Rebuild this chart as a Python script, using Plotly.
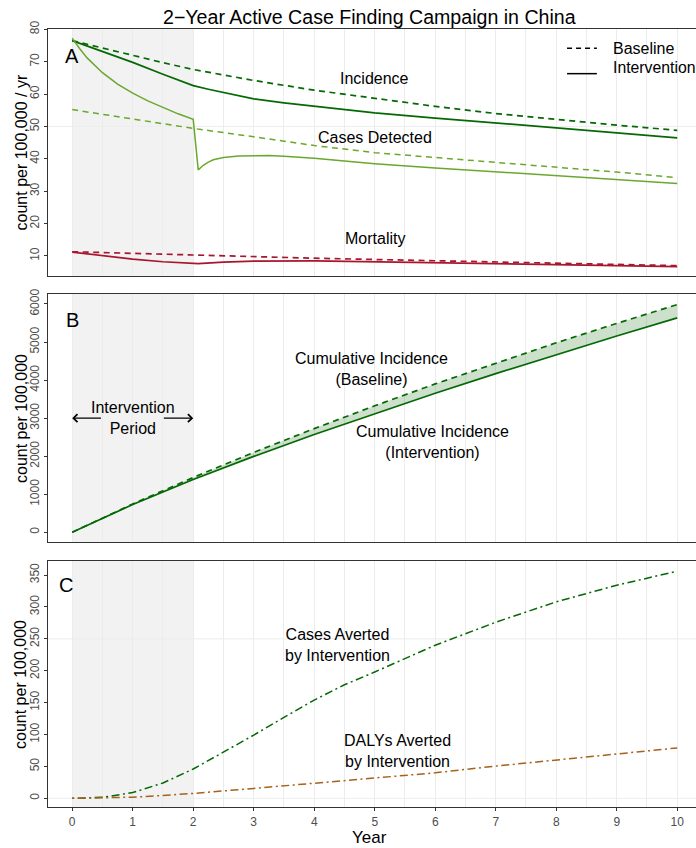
import plotly.graph_objects as go

FONT = "Liberation Sans, Arial, Helvetica, sans-serif"

# ---------------- data ----------------
INTERVENTION_PERIOD = [0, 2]

# Panel A: rates per 100,000 / yr
years_a = [0, 0.5, 1, 1.5, 2, 2.5, 3, 4, 5, 6, 7, 8, 9, 10]
incidence_baseline = [76.5, 74.2, 71.9, 69.7, 67.6, 65.8, 64.2, 61.2, 58.6, 56.2, 54.0, 52.1, 50.4, 48.8]
years_a_int = [0, 0.5, 1, 1.5, 2, 2.25, 2.5, 2.75, 3, 3.5, 4, 5, 6, 7, 8, 9, 10]
incidence_intervention = [76.5, 73.1, 69.8, 66.1, 62.6, 61.5, 60.5, 59.4, 58.5, 57.3, 56.3, 54.2, 52.6,
                          51.1, 49.5, 48.0, 46.5]

years_cd_base = [0, 1, 2, 3, 4, 5, 6, 7, 8, 9, 10]
detected_baseline = [55.2, 52.3, 49.4, 46.8, 44.1, 41.9, 40.4, 39.0, 37.5, 35.9, 34.2]
years_cd_int = [0, 0.125, 0.25, 0.375, 0.5, 0.75, 1, 1.25, 1.5, 1.75, 2, 2.083, 2.167, 2.25, 2.333,
                2.5, 2.75, 3, 3.25, 3.5, 4, 4.5, 5, 6, 7, 8, 9, 10]
detected_intervention = [77.3, 74.0, 71.1, 68.7, 66.6, 63.1, 60.3, 57.9, 55.8, 53.9, 52.2, 36.6, 38.0,
                         39.0, 39.7, 40.4, 40.85, 41.0, 41.0, 40.8, 40.2, 39.3, 38.5, 37.2, 36.0, 34.7, 33.5, 32.4]

years_mort_base = [0, 1, 2, 3, 4, 5, 6, 7, 8, 9, 10]
mortality_baseline = [11.3, 10.75, 10.2, 9.7, 9.3, 8.9, 8.5, 8.1, 7.7, 7.3, 7.0]
years_mort_int = [0, 0.5, 1, 1.5, 2, 2.083, 2.5, 3, 4, 5, 6, 7, 8, 9, 10]
mortality_intervention = [11.2, 10.0, 9.0, 8.2, 7.5, 7.6, 8.1, 8.4, 8.5, 8.2, 7.9, 7.5, 7.2, 6.9, 6.7]

# Panel B: cumulative incidence per 100,000
years_b = [0, 1, 2, 3, 4, 5, 6, 7, 8, 9, 10]
cum_baseline = [0, 745, 1440, 2100, 2725, 3325, 3900, 4450, 4980, 5490, 5985]
cum_intervention = [0, 730, 1390, 1995, 2570, 3120, 3655, 4170, 4675, 5160, 5635]

# Panel C: averted per 100,000
years_c = [0, 0.5, 1, 1.5, 2, 2.5, 3, 3.5, 4, 4.5, 5, 6, 7, 8, 9, 10]
cases_averted = [0, 1.5, 9, 24, 46, 72, 99, 127, 154, 178, 198, 240, 276, 308, 334, 356]
years_d = [0, 0.5, 1, 1.5, 2, 3, 4, 5, 6, 7, 8, 9, 10]
dalys_averted = [0, 0.5, 1.8, 4.5, 7.7, 15.5, 23.5, 31, 40, 50.5, 60, 69, 79]

# tick labels
x_ticks = [0, 1, 2, 3, 4, 5, 6, 7, 8, 9, 10]
ya_ticks = [10, 20, 30, 40, 50, 60, 70, 80]
yb_ticks = [0, 1000, 2000, 3000, 4000, 5000, 6000]
yc_ticks = [0, 50, 100, 150, 200, 250, 300, 350]

# ---------------- styles ----------------
DARK_GREEN = "#046804"
LIGHT_GREEN = "#6aa82d"
RED = "#a8152d"
BROWN = "#a6611a"
DASH = "6px,4.5px"
DOTDASH = "2px,3.5px,8px,3.5px"
LW = 1.7

fig = go.Figure()

def add(x, y, color, dash, xa, ya, fill=None, fillcolor=None, width=LW):
    fig.add_trace(go.Scatter(x=x, y=y, mode="lines", xaxis=xa, yaxis=ya,
                             line=dict(color=color, dash=dash, width=width),
                             fill=fill, fillcolor=fillcolor,
                             showlegend=False, hoverinfo="skip"))

# Panel A
add(years_a, incidence_baseline, DARK_GREEN, DASH, "x", "y")
add(years_a_int, incidence_intervention, DARK_GREEN, "solid", "x", "y")
add(years_cd_base, detected_baseline, LIGHT_GREEN, DASH, "x", "y", width=1.5)
add(years_cd_int, detected_intervention, LIGHT_GREEN, "solid", "x", "y", width=1.5)
add(years_mort_base, mortality_baseline, RED, DASH, "x", "y")
add(years_mort_int, mortality_intervention, RED, "solid", "x", "y")

# Panel B
add(years_b, cum_intervention, DARK_GREEN, "solid", "x2", "y2")
add(years_b, cum_baseline, DARK_GREEN, DASH, "x2", "y2", fill="tonexty",
    fillcolor="rgba(0,100,0,0.2)")

# Panel C
add(years_c, cases_averted, DARK_GREEN, DOTDASH, "x3", "y3", width=1.5)
add(years_d, dalys_averted, BROWN, DOTDASH, "x3", "y3", width=1.5)

GRID = "#ECECEC"
BORDER = "#333333"
TICKFONT = dict(family=FONT, size=12, color="#4D4D4D")
XRANGE = [-0.4, 10.31]

def xaxis(anchor, bottom=False):
    d = dict(domain=[0, 1], anchor=anchor, range=XRANGE, showgrid=True,
             gridcolor=GRID, gridwidth=1, dtick=1, tick0=0,
             minor=dict(dtick=0.5, showgrid=True, gridcolor=GRID, gridwidth=1),
             showline=True, mirror=True, linecolor=BORDER, linewidth=1.4,
             zeroline=False, showticklabels=bottom, ticks="outside" if bottom else "",
             ticklen=3, tickcolor=BORDER, tickfont=TICKFONT)
    if bottom:
        d["tickvals"] = x_ticks
    return d

def yaxis(dom, rng, ticks, anchor):
    return dict(domain=dom, anchor=anchor, range=rng, tickvals=ticks,
                tickangle=-90, showgrid=False, zeroline=False,
                showline=True, linecolor=BORDER, linewidth=1.4,
                ticks="outside", ticklen=3, tickcolor=BORDER, tickfont=TICKFONT)

fig.update_layout(
    width=696, height=848,
    margin=dict(l=48, r=0, t=29, b=41),
    paper_bgcolor="white", plot_bgcolor="white",
    font=dict(family=FONT, size=16, color="black"),
    xaxis=xaxis("y"), xaxis2=xaxis("y2"), xaxis3=xaxis("y3", bottom=True),
    yaxis=yaxis([0.6825, 1], [3.8, 80.1], ya_ticks, "x"),
    yaxis2=yaxis([0.3406, 0.6594], [-255, 6263], yb_ticks, "x2"),
    yaxis3=yaxis([0, 0.3162], [-13.6, 372], yc_ticks, "x3"),
)

shapes = []
for xr, yr in (("x", "y"), ("x2", "y2"), ("x3", "y3")):
    shapes.append(dict(type="rect", xref=xr, yref=yr + " domain",
                       x0=INTERVENTION_PERIOD[0], x1=INTERVENTION_PERIOD[1], y0=0, y1=1,
                       fillcolor="#F2F2F2", line=dict(width=0), layer="below"))
# sparse horizontal grid lines
for yr, val in (("y", 50), ("y3", 0), ("y3", 250)):
    shapes.append(dict(type="line", xref=yr.replace("y", "x") + " domain", yref=yr,
                       x0=0, x1=1, y0=val, y1=val,
                       line=dict(color="#EDEDED", width=1), layer="below"))
# legend samples
shapes.append(dict(type="line", xref="paper", yref="paper", x0=0.801, x1=0.847,
                   y0=0.9752, y1=0.9752, line=dict(color="black", width=1.5, dash="5px,4px")))
shapes.append(dict(type="line", xref="paper", yref="paper", x0=0.801, x1=0.847,
                   y0=0.9426, y1=0.9426, line=dict(color="black", width=1.5)))
fig.update_layout(shapes=shapes)

ann = []
def text(t, x, y, xref, yref, size=16, **kw):
    ann.append(dict(text=t, x=x, y=y, xref=xref, yref=yref, showarrow=False,
                    font=dict(family=FONT, size=size, color="black"),
                    xanchor=kw.pop("xanchor", "center"), yanchor=kw.pop("yanchor", "middle"),
                    align="center", **kw))

# title, axis titles
text("2\u2212Year Active Case Finding Campaign in China", 0.4969, 1.0154, "paper", "paper", size=19.6)
text("Year", 0.4969, -0.0386, "paper", "paper", size=17)
text("count per 100,000 / yr", -0.0417, 0.8413, "paper", "paper", textangle=-90)
text("count per 100,000", -0.0417, 0.5, "paper", "paper", textangle=-90)
text("count per 100,000", -0.0417, 0.1581, "paper", "paper", textangle=-90)

# legend text
text("Baseline", 0.8688, 0.9743, "paper", "paper", xanchor="left")
text("Intervention", 0.8688, 0.9499, "paper", "paper", xanchor="left", size=15.8)

# panel letters
text("A", 0, 71.9, "x", "y", size=20)
text("B", 0, 5580, "x2", "y2", size=20)
text("C", -0.1, 334, "x3", "y3", size=20)

# panel A labels
text("Incidence", 5, 64.7, "x", "y")
text("Cases Detected", 5, 46.6, "x", "y")
text("Mortality", 5, 15.3, "x", "y")

# panel B labels
text("Cumulative Incidence<br>(Baseline)", 4.95, 4292, "x2", "y2")
text("Cumulative Incidence<br>(Intervention)", 5.96, 2386, "x2", "y2")
text("Intervention<br>Period", 1.0, 3004, "x2", "y2")

# arrows for intervention period
for tip, tail in ((INTERVENTION_PERIOD[0], 0.5), (INTERVENTION_PERIOD[1], 1.49)):
    ann.append(dict(text="", x=tip, y=3000, ax=tail, ay=3000,
                    xref="x2", yref="y2", axref="x2", ayref="y2",
                    showarrow=True, arrowhead=4, arrowsize=1.3, arrowwidth=1.2,
                    arrowcolor="black", standoff=0, startstandoff=0))

# panel C labels
text("Cases Averted<br>by Intervention", 4.39, 241, "x3", "y3")
text("DALYs Averted<br>by Intervention", 5.38, 74, "x3", "y3")

fig.update_layout(annotations=ann)
fig.write_html("out.html", config={"displayModeBar": False},
               post_script="document.body.style.margin='0px';document.body.style.overflow='hidden';")
